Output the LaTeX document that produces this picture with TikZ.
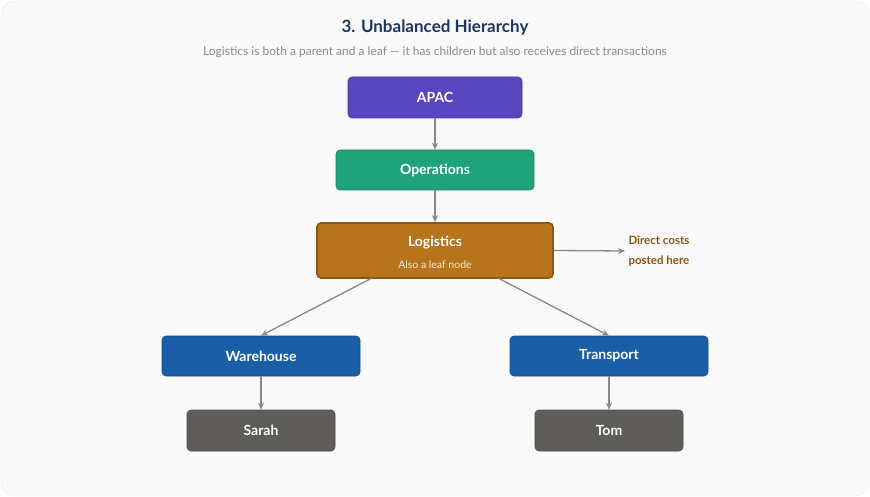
\documentclass[tikz,border=0pt]{standalone}
\usepackage{fontspec}
\setmainfont{Lato}
\usetikzlibrary{arrows.meta}
\definecolor{bg}{HTML}{F9F9F9}
\definecolor{titlec}{HTML}{1F3566}
\definecolor{subc}{HTML}{8A8A8A}
\definecolor{apacc}{HTML}{5847BE}
\definecolor{opc}{HTML}{1FA37A}
\definecolor{logc}{HTML}{B8741A}
\definecolor{logb}{HTML}{8B5513}
\definecolor{bluec}{HTML}{1A5EA8}
\definecolor{grayc}{HTML}{5E5D59}
\definecolor{arrc}{HTML}{888888}
\begin{document}
\begin{tikzpicture}[x=1pt,y=-1pt,
  box/.style={draw=#1!80!black,fill=#1,rounded corners=4pt,line width=0.6pt,text=white,font=\bfseries\fontsize{14}{16}\selectfont},
  conn/.style={draw=arrc,line width=1.3pt,-{Stealth[length=7pt,width=6pt]}}]
\useasboundingbox (0,0) rectangle (870,497);
\fill[bg,draw=black!8,rounded corners=14pt] (1,1) rectangle (869,496);
\node[text=titlec,font=\bfseries\fontsize{17}{20}\selectfont] (title) at (435,28) {3. Unbalanced Hierarchy};
\node[text=subc,font=\fontsize{12}{14}\selectfont] (sub) at (435,52) {Logistics is both a parent and a leaf — it has children but also receives direct transactions};
\node[box=apacc,minimum width=174pt,minimum height=41pt] (apac) at (435,97.5) {APAC};
\node[box=opc,minimum width=198pt,minimum height=40pt] (ops) at (435,170) {Operations};
\node[draw=logb,fill=logc,line width=1.6pt,rounded corners=4pt,minimum width=236pt,minimum height=55pt] (log) at (435,250.5) {};
\node[text=white,font=\bfseries\fontsize{14}{16}\selectfont] (logt) at (435,243) {Logistics};
\node[text=white!85!logc,font=\fontsize{10.5}{12}\selectfont] (logs) at (435,265) {Also a leaf node};
\node[box=bluec,minimum width=198pt,minimum height=40pt] (wh) at (261,356) {Warehouse};
\node[box=bluec,minimum width=198pt,minimum height=40pt] (tr) at (609,356) {Transport};
\node[box=grayc,minimum width=148pt,minimum height=41pt] (sarah) at (261,430.5) {Sarah};
\node[box=grayc,minimum width=148pt,minimum height=41pt] (tom) at (609,430.5) {Tom};
\node[text=logb,font=\bfseries\fontsize{11.5}{20}\selectfont,align=left,anchor=west] (dc) at (625,251) {Direct costs\\posted here};
\draw[conn] (apac) -- (ops);
\draw[conn] (ops) -- (log);
\draw[conn] (372,278) -- (wh.north);
\draw[conn] (498,278) -- (tr.north);
\draw[conn] (wh) -- (sarah);
\draw[conn] (tr) -- (tom);
\draw[conn] (log.east) -- (dc.west);
\end{tikzpicture}
\end{document}
